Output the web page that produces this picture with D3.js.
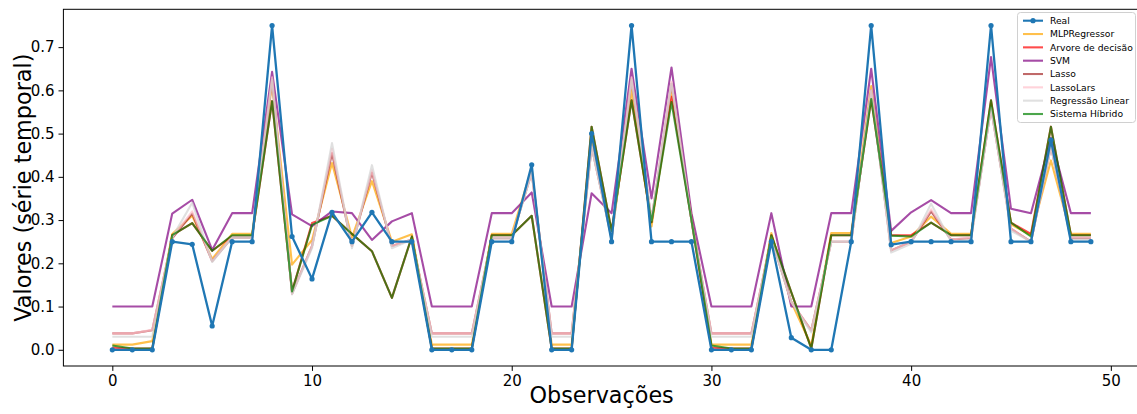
<!DOCTYPE html>
<html><head><meta charset="utf-8">
<script src="https://cdn.jsdelivr.net/npm/d3@7"></script>
<style>
html,body{margin:0;padding:0;background:#fff;}
svg{display:block;font-family:"DejaVu Sans",sans-serif;}
</style></head>
<body><svg id="chart" width="1137" height="414"></svg>
<script>
const obs = d3.range(50);
const real = [0,0,0,0.25,0.244,0.055,0.25,0.25,0.75,0.262, 0.164,0.318,0.25,0.318,0.25,0.25,0,0,0,0.25, 0.25,0.428,0,0,0.5,0.25,0.75,0.25,0.25,0.25, 0,0,0,0.25,0.028,0,0,0.25,0.75,0.243, 0.25,0.25,0.25,0.25,0.75,0.25,0.25,0.485,0.25,0.25];
const mlp = [0.012,0.012,0.02,0.268,0.31,0.21,0.268,0.268,0.615,0.197, 0.254,0.432,0.26,0.39,0.25,0.267,0.012,0.012,0.012,0.268, 0.268,0.42,0.012,0.012,0.49,0.262,0.6,0.285,0.6,0.31, 0.012,0.012,0.012,0.27,0.11,0.01,0.27,0.27,0.61,0.247, 0.262,0.308,0.268,0.268,0.57,0.29,0.265,0.438,0.268,0.268];
const arvore = [0.005,0.003,0.003,0.265,0.293,0.229,0.263,0.263,0.575,0.135, 0.293,0.31,0.268,0.228,0.12,0.262,0.003,0.003,0.003,0.265, 0.265,0.31,0.003,0.003,0.516,0.275,0.577,0.295,0.585,0.3, 0.005,0.003,0.003,0.265,0.133,0.003,0.265,0.265,0.58,0.265, 0.265,0.294,0.265,0.265,0.577,0.294,0.268,0.516,0.265,0.265];
const svm = [0.1,0.1,0.1,0.315,0.347,0.231,0.316,0.316,0.643,0.313, 0.286,0.32,0.316,0.254,0.297,0.316,0.1,0.1,0.1,0.316, 0.316,0.364,0.1,0.1,0.362,0.316,0.65,0.35,0.653,0.316, 0.1,0.1,0.1,0.316,0.1,0.1,0.316,0.316,0.65,0.275, 0.318,0.346,0.316,0.316,0.677,0.326,0.316,0.49,0.316,0.316];
const lasso = [0.038,0.038,0.045,0.258,0.315,0.205,0.26,0.26,0.625,0.13, 0.24,0.455,0.24,0.41,0.24,0.255,0.038,0.038,0.038,0.258, 0.258,0.41,0.038,0.038,0.47,0.258,0.625,0.3,0.615,0.3, 0.038,0.038,0.038,0.258,0.11,0.045,0.25,0.25,0.6,0.23, 0.25,0.32,0.255,0.258,0.56,0.28,0.25,0.47,0.258,0.258];
const lassoLars = [0.038,0.038,0.046,0.26,0.32,0.205,0.262,0.262,0.63,0.13, 0.24,0.465,0.24,0.415,0.24,0.255,0.038,0.038,0.038,0.26, 0.26,0.41,0.038,0.038,0.47,0.26,0.63,0.3,0.62,0.3, 0.038,0.038,0.038,0.26,0.11,0.045,0.25,0.25,0.6,0.23, 0.25,0.325,0.255,0.26,0.56,0.28,0.25,0.47,0.26,0.26];
const linReg = [0.03,0.03,0.03,0.26,0.34,0.203,0.26,0.26,0.625,0.128, 0.235,0.478,0.235,0.427,0.235,0.255,0.03,0.03,0.03,0.258, 0.258,0.41,0.03,0.03,0.47,0.255,0.625,0.3,0.615,0.3, 0.03,0.03,0.03,0.258,0.11,0.04,0.25,0.25,0.6,0.225, 0.245,0.338,0.25,0.255,0.56,0.275,0.25,0.47,0.255,0.255];
const hibrido = [0.01,0.003,0.003,0.265,0.293,0.229,0.265,0.265,0.575,0.135, 0.289,0.31,0.268,0.228,0.12,0.262,0.003,0.003,0.003,0.265, 0.265,0.31,0.003,0.003,0.516,0.275,0.577,0.295,0.573,0.3, 0.01,0.003,0.003,0.265,0.133,0.003,0.265,0.265,0.58,0.264, 0.262,0.294,0.265,0.265,0.577,0.294,0.262,0.516,0.265,0.265];
const xTicks = [0,10,20,30,40,50];
const yTicks = [0,0.1,0.2,0.3,0.4,0.5,0.6,0.7];

const series = [
  {name:"Real", values:real, color:"#1f77b4", alpha:1, marker:true},
  {name:"MLPRegressor", values:mlp, color:"orange", alpha:0.7},
  {name:"Arvore de decisão", values:arvore, color:"red", alpha:0.7},
  {name:"SVM", values:svm, color:"purple", alpha:0.7},
  {name:"Lasso", values:lasso, color:"brown", alpha:0.7},
  {name:"LassoLars", values:lassoLars, color:"pink", alpha:0.7},
  {name:"Regressão Linear", values:linReg, color:"lightgray", alpha:0.7},
  {name:"Sistema Híbrido", values:hibrido, color:"green", alpha:0.7}
];

const svg = d3.select("#chart");
const L = 63.4, R = 1139.8, T = 9.3, B = 366;
const x = d3.scaleLinear().domain([-2.45, 51.45]).range([L, R]);
const y = d3.scaleLinear().domain([-0.0375, 0.7875]).range([B, T]);

const line = d3.line().x((d,i)=>x(obs[i])).y(d=>y(d));
const g = svg.append("g");
series.slice(1).forEach(s=>{
  g.append("path").attr("d", line(s.values)).attr("fill","none")
    .attr("stroke", s.color).attr("stroke-opacity", s.alpha)
    .attr("stroke-width", 2.1).attr("stroke-linejoin","round");
});
const rs = series[0];
g.append("path").attr("d", line(rs.values)).attr("fill","none")
  .attr("stroke", rs.color).attr("stroke-width", 2.3).attr("stroke-linejoin","round");
g.selectAll("circle.m").data(rs.values).enter().append("circle")
  .attr("cx",(d,i)=>x(obs[i])).attr("cy",d=>y(d)).attr("r",2.6).attr("fill",rs.color);

const xAxis = d3.axisBottom(x).tickValues(xTicks).tickFormat(d3.format("d")).tickSize(4.9).tickPadding(4);
const yAxis = d3.axisLeft(y).tickValues(yTicks).tickFormat(d3.format(".1f")).tickSize(4.9).tickPadding(4);
const gx = svg.append("g").attr("transform",`translate(0,${B})`).call(xAxis);
const gy = svg.append("g").attr("transform",`translate(${L},0)`).call(yAxis);
[gx,gy].forEach(a=>{
  a.select(".domain").remove();
  a.selectAll("text").attr("font-size",15).attr("fill","#000").attr("font-family","DejaVu Sans");
  a.selectAll("line").attr("stroke","#000").attr("stroke-width",1);
});
svg.append("rect").attr("x",L).attr("y",T).attr("width",R-L).attr("height",B-T)
  .attr("fill","none").attr("stroke","#000").attr("stroke-width",1);

svg.append("text").attr("x", (L+R)/2).attr("y", 403).attr("text-anchor","middle")
  .attr("font-size",22.3).text("Observações");
svg.append("text").attr("transform",`translate(31,${(T+B)/2}) rotate(-90)`).attr("text-anchor","middle")
  .attr("font-size",22.3).text("Valores (série temporal)");

const lg = svg.append("g");
lg.append("rect").attr("x",1017.5).attr("y",12.5).attr("width",118).attr("height",110).attr("rx",3)
  .attr("fill","#fff").attr("fill-opacity",0.8).attr("stroke","#d0d0d0").attr("stroke-width",1);
series.forEach((s,i)=>{
  const yy = 20.7 + i*13.33;
  lg.append("line").attr("x1",1023).attr("x2",1043).attr("y1",yy).attr("y2",yy)
    .attr("stroke",s.color).attr("stroke-opacity",s.alpha).attr("stroke-width",2.1);
  if (s.marker) lg.append("circle").attr("cx",1033).attr("cy",yy).attr("r",2.6).attr("fill",s.color);
  lg.append("text").attr("x",1050).attr("y",yy+3.3).attr("font-size",9.2).attr("fill","#000").text(s.name);
});
</script></body></html>
